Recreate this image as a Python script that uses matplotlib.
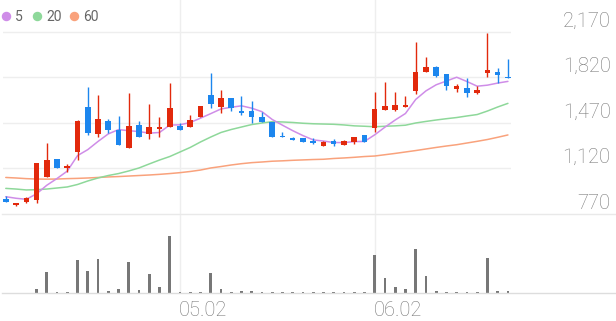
import matplotlib
matplotlib.use("Agg")
import matplotlib.pyplot as plt
from matplotlib.lines import Line2D
import numpy as np

# ---------------- data ----------------
opens = [883, 839, 862, 878, 1057, 1191, 1124, 1247, 1595, 1385,
         1485, 1416, 1275, 1455, 1385, 1426, 1441, 1447, 1441, 1518,
         1688, 1595, 1665, 1562, 1565, 1514, 1480, 1370, 1352, 1352,
         1332, 1295, 1332, 1301, 1321, 1378, 1429, 1570, 1572, 1593,
         1716, 1865, 1903, 1845, 1732, 1742, 1698, 1858, 1865, 1826]
highs = [911, 858, 901, 1163, 1318, 1193, 1155, 1493, 1749, 1685,
         1498, 1524, 1698, 1485, 1616, 1518, 1775, 1468, 1532, 1601,
         1852, 1724, 1665, 1678, 1641, 1557, 1480, 1403, 1365, 1352,
         1352, 1332, 1347, 1337, 1362, 1378, 1711, 1788, 1706, 1680,
         2091, 1980, 1911, 1845, 1768, 1814, 1755, 2160, 1891, 1962]
lows = [865, 832, 858, 857, 1055, 1124, 1093, 1185, 1378, 1360,
        1391, 1301, 1275, 1360, 1344, 1365, 1441, 1416, 1441, 1518,
        1583, 1545, 1565, 1531, 1472, 1480, 1365, 1360, 1337, 1321,
        1306, 1295, 1291, 1301, 1311, 1321, 1403, 1570, 1562, 1593,
        1691, 1865, 1824, 1724, 1711, 1672, 1691, 1826, 1775, 1814]
closes = [865, 851, 893, 1160, 1185, 1124, 1139, 1488, 1391, 1498,
          1416, 1301, 1447, 1360, 1437, 1441, 1585, 1416, 1493, 1601,
          1614, 1665, 1583, 1545, 1514, 1480, 1365, 1360, 1337, 1321,
          1316, 1321, 1306, 1332, 1362, 1321, 1575, 1601, 1608, 1608,
          1865, 1903, 1834, 1757, 1752, 1698, 1724, 1874, 1839, 1814]
ma5 = [903, 891, 883, 925, 991, 1043, 1100, 1219, 1265, 1328,
       1386, 1419, 1411, 1404, 1392, 1397, 1454, 1456, 1474, 1507,
       1542, 1578, 1591, 1602, 1584, 1557, 1497, 1453, 1411, 1373,
       1340, 1331, 1320, 1319, 1327, 1328, 1379, 1438, 1493, 1543,
       1651, 1717, 1764, 1793, 1822, 1789, 1753, 1761, 1777, 1790]
ma20 = [967, 962, 955, 957, 962, 970, 978, 997, 1024, 1047,
        1066, 1081, 1101, 1124, 1155, 1185, 1212, 1247, 1282, 1324,
        1362, 1397, 1420, 1439, 1458, 1470, 1480, 1478, 1474, 1468,
        1464, 1462, 1460, 1455, 1448, 1445, 1441, 1445, 1448, 1453,
        1470, 1482, 1493, 1503, 1512, 1524, 1535, 1562, 1593, 1621]
ma60 = [1051, 1047, 1042, 1039, 1038, 1039, 1042, 1044, 1047, 1051,
        1055, 1058, 1062, 1066, 1070, 1075, 1081, 1088, 1097, 1108,
        1124, 1135, 1147, 1157, 1165, 1170, 1176, 1179, 1183, 1186,
        1189, 1191, 1197, 1201, 1206, 1212, 1216, 1226, 1236, 1247,
        1258, 1270, 1282, 1293, 1303, 1316, 1329, 1343, 1360, 1378]
volumes = [0, 0, 0, 185, 1050, 70, 70, 1670, 1085, 1720,
           120, 200, 1570, 170, 970, 300, 2870, 50, 50, 50,
           1020, 185, 70, 85, 85, 50, 50, 50, 50, 50,
           50, 50, 50, 50, 50, 50, 1900, 770, 320, 200,
           2220, 835, 115, 70, 50, 70, 70, 1770, 115, 115]
price_ticks = [770, 1120, 1470, 1820, 2170]
date_tick_idx = [17, 36]
date_tick_labels = ["05.02", "06.02"]
ma_labels = ["5", "20", "60"]

# ---------------- style ----------------
RED = "#e2290c"
BLUE = "#1c86ee"
MA_COLORS = ["#cf8de8", "#8ed89a", "#f9a27c"]
GRID = "#eeeeee"
TXT = "#777777"
FONT = "Roboto"

W, H = 616, 321
fig = plt.figure(figsize=(W / 100, H / 100), dpi=100)


def px_axes(x0, y0, x1, y1):
    return fig.add_axes([x0 / W, 1 - y1 / H, (x1 - x0) / W, (y1 - y0) / H])


ax = px_axes(2.7, 0, 511, 214)
axv = px_axes(2.7, 214, 511, 293)

n = len(closes)
x = np.arange(n)
o = np.array(opens, float)
c = np.array(closes, float)
colors = [RED if cc >= oo else BLUE for oo, cc in zip(o, c)]

for a in (ax, axv):
    a.set_xlim(-0.3, n - 0.7)
    for s in a.spines.values():
        s.set_visible(False)
    a.set_xticks([])
    a.set_yticks([])
    a.patch.set_alpha(0)
    for idx in date_tick_idx:
        a.axvline(idx, color=GRID, lw=1, zorder=0)

ax.set_ylim(770, 2416)
for v in price_ticks[1:]:
    ax.axhline(v, color=GRID, lw=1, zorder=0)

# MA lines
for vals, col in zip([ma60, ma20, ma5], MA_COLORS[::-1]):
    ax.plot(x, vals, color=col, lw=1.1, zorder=2, solid_capstyle="round")

# candles
ax.vlines(x, lows, highs, colors=colors, lw=1.0, zorder=3)
body_lo = np.minimum(o, c)
body_h = np.maximum(np.abs(c - o), 10)
ax.bar(x, body_h, bottom=body_lo, width=0.54, color=colors, lw=0, zorder=4)

# price labels on the right
for v in price_ticks:
    ax.annotate(f"{v:,}", xy=(1, v), xycoords=("axes fraction", "data"),
                xytext=(99.5, 5.3), textcoords="offset pixels",
                ha="right", va="baseline", fontsize=14.5, color=TXT,
                family=FONT, fontweight="light")

# volume
axv.set_ylim(0, max(volumes) * 79 / 57.4)
axv.bar(x, volumes, width=0.27, color="#777777", lw=0, zorder=3)
for idx, lab in zip(date_tick_idx, date_tick_labels):
    axv.annotate(lab, xy=(idx, 0), xycoords=("data", "axes fraction"),
                 xytext=(-1, -23.5), textcoords="offset pixels",
                 ha="left", va="baseline", fontsize=14.5, color=TXT,
                 family=FONT, fontweight="light")

# full-width separators
for yy, col in [(214, "#e9e9e9"), (293, "#dddddd")]:
    fig.add_artist(Line2D([2 / W, 1], [1 - yy / H, 1 - yy / H],
                          color=col, lw=1, transform=fig.transFigure, zorder=1))

# legend
dot_x = [5.7, 37.3, 73.7]
txt_x = [14.5, 46.2, 82.8]
for dx, tx, lab, col in zip(dot_x, txt_x, ma_labels, MA_COLORS):
    fig.add_artist(Line2D([dx / W], [1 - 15.7 / H], marker="o", ms=5.8,
                          color=col, mec=col, lw=0, transform=fig.transFigure))
    fig.text(tx / W, 1 - 15.7 / H, lab, ha="left", va="center_baseline",
             fontsize=10, color="#666666", family=FONT)

fig.savefig("out.png", dpi=100)
